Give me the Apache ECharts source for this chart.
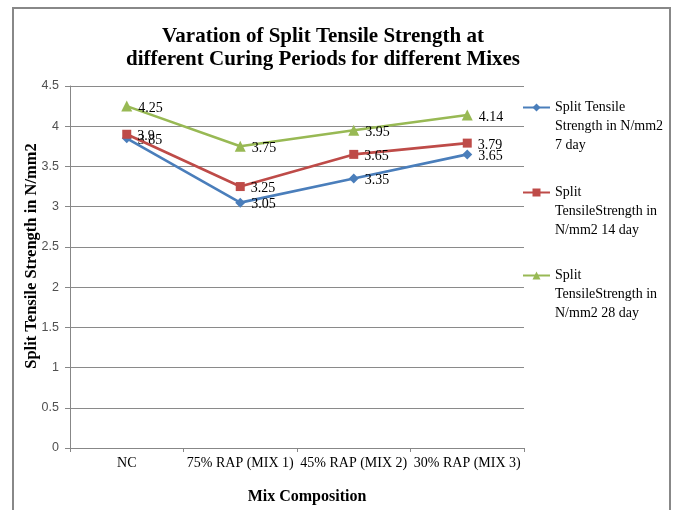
<!DOCTYPE html>
<html>
<head>
<meta charset="utf-8">
<script src="https://cdn.jsdelivr.net/npm/echarts@6/dist/echarts.min.js"></script>
<style>
  html, body { margin: 0; padding: 0; background: #fff; }
  #chart { width: 681px; height: 510px; }
</style>
</head>
<body>
<div id="chart"></div>
<script>
// Mix compositions along the x axis
const categories = ['NC', '75% RAP (MIX 1)', '45% RAP (MIX 2)', '30% RAP (MIX 3)'];

// Split tensile strength (N/mm2) per curing period
const day7 = [3.85, 3.05, 3.35, 3.65];
const day14 = [3.9, 3.25, 3.65, 3.79];
const day28 = [4.25, 3.75, 3.95, 4.14];

const seriesNames = ['7 day', '14 day', '28 day'];
const legendLabels = {
  '7 day': 'Split Tensile\nStrength in N/mm2\n7 day',
  '14 day': 'Split\nTensileStrength in\nN/mm2 14 day',
  '28 day': 'Split\nTensileStrength in\nN/mm2 28 day'
};

// Value axis ticks
const yMin = 0, yMax = 4.5, yStep = 0.5;

const chartTitle = 'Varation of Split Tensile Strength at\ndifferent Curing Periods for different Mixes';

const colors = ['#4A7EBB', '#BE4B48', '#98B954'];
const symbols = ['diamond', 'rect', 'triangle'];
const symbolSizes = [10, 9, 11];
const serif = '"Liberation Serif", "Times New Roman", serif';

const chart = echarts.init(document.getElementById('chart'), null, { renderer: 'canvas' });

const labelStyle = {
  show: true,
  position: 'right',
  distance: 6,
  offset: [0, 2],
  color: '#000',
  fontFamily: serif,
  fontSize: 14
};

function makeSeries(idx, values) {
  return {
    name: seriesNames[idx],
    type: 'line',
    data: values,
    symbol: symbols[idx],
    symbolSize: symbolSizes[idx],
    lineStyle: { color: colors[idx], width: 2.6 },
    itemStyle: { color: colors[idx] },
    label: labelStyle,
    z: 3 + idx
  };
}

// One legend block per series; leading blank lines keep the marker beside the first text line
function makeLegend(idx, top) {
  return {
    data: [seriesNames[idx]],
    orient: 'vertical',
    left: 522,
    top: top,
    itemWidth: 27,
    itemHeight: 10,
    padding: 0,
    selectedMode: false,
    formatter: function (name) { return '\n\n' + legendLabels[name]; },
    textStyle: {
      color: '#000',
      fontFamily: serif,
      fontSize: 14,
      lineHeight: 19
    }
  };
}

chart.setOption({
  animation: false,
  backgroundColor: '#fff',
  color: colors,
  legend: [makeLegend(0, 60), makeLegend(1, 145), makeLegend(2, 228)],
  grid: { left: 70, right: 157, top: 86, bottom: 62, containLabel: false },
  xAxis: {
    type: 'category',
    data: categories,
    boundaryGap: true,
    name: 'Mix Composition',
    nameLocation: 'middle',
    nameGap: 41,
    nameTextStyle: { fontFamily: serif, fontWeight: 'bold', fontSize: 16, color: '#000', padding: [0, 0, 0, 20] },
    axisLine: { lineStyle: { color: '#878787', width: 1 } },
    axisTick: { show: true, length: 4, alignWithLabel: false, lineStyle: { color: '#878787' } },
    axisLabel: { fontFamily: serif, fontSize: 14, color: '#000', margin: 8, interval: 0 }
  },
  yAxis: {
    type: 'value',
    min: yMin,
    max: yMax,
    interval: yStep,
    name: 'Split Tensile Strength in N/mm2',
    nameLocation: 'middle',
    nameGap: 30,
    nameMoveOverlap: false,
    nameTextStyle: { fontFamily: serif, fontWeight: 'bold', fontSize: 16.5, color: '#000', padding: [0, 0, 0, 22] },
    axisLine: { show: true, lineStyle: { color: '#878787', width: 1 } },
    axisTick: { show: true, length: 5, lineStyle: { color: '#878787' } },
    axisLabel: { fontFamily: '"Liberation Sans", Arial, sans-serif', fontSize: 12.5, color: '#505050', margin: 11 },
    splitLine: { show: true, lineStyle: { color: '#8a8a8a', width: 1 } }
  },
  graphic: [{
    type: 'rect',
    shape: { x: 13, y: 8, width: 657, height: 520 },
    style: { fill: 'none', stroke: '#888', lineWidth: 2 },
    silent: true,
    z: -1
  }, {
    type: 'text',
    x: 323,
    y: 25,
    silent: true,
    style: {
      text: chartTitle,
      align: 'center',
      verticalAlign: 'top',
      fill: '#000',
      fontFamily: serif,
      fontWeight: 'bold',
      fontSize: 21,
      lineHeight: 23
    }
  }],
  series: [makeSeries(0, day7), makeSeries(1, day14), makeSeries(2, day28)]
});
</script>
</body>
</html>
